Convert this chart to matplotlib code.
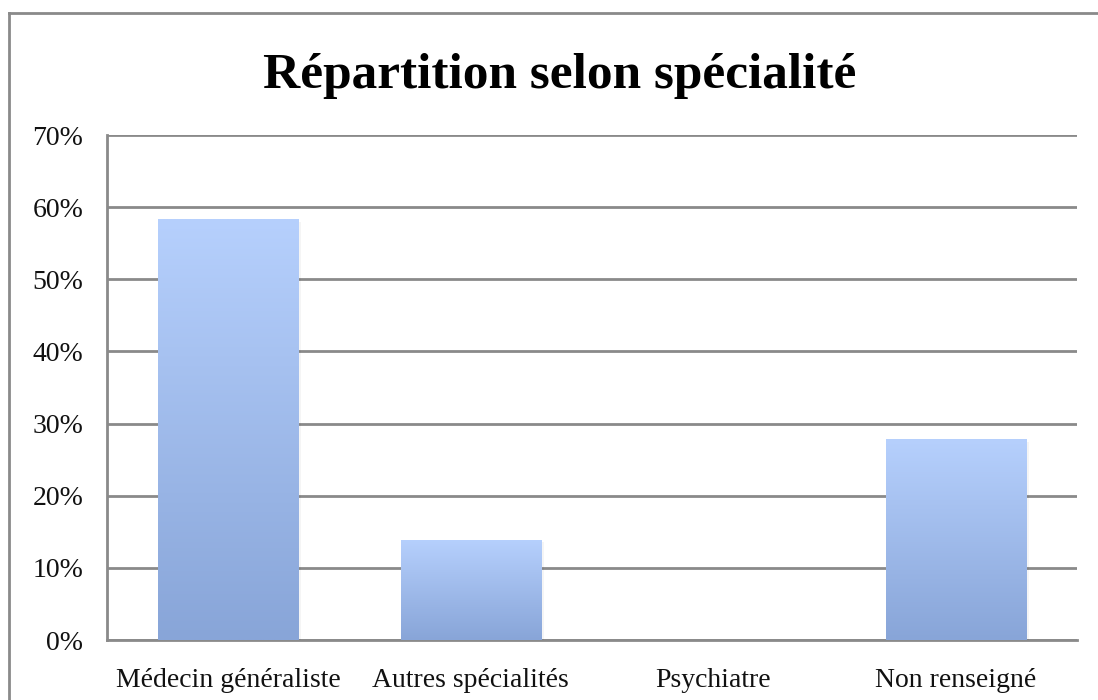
import matplotlib
matplotlib.use('Agg')
import matplotlib.pyplot as plt
import numpy as np
from matplotlib.colors import LinearSegmentedColormap
from matplotlib.lines import Line2D

categories = ['Médecin généraliste', 'Autres spécialités', 'Psychiatre', 'Non renseigné']
values = [58.3, 13.9, 0.0, 27.8]
yticks = [0, 10, 20, 30, 40, 50, 60, 70]
title = 'Répartition selon spécialité'

plt.rcParams['font.family'] = ['Liberation Serif', 'DejaVu Serif']

fig = plt.figure(figsize=(10.98, 7), dpi=100)
ax = fig.add_axes([0.0975, 0.0857, 0.8835, 0.7214])

# frame around the whole chart (top and left edges visible)
fig.add_artist(Line2D([9 / 1098, 9 / 1098], [0, 1 - 13 / 700], transform=fig.transFigure,
                      color='#8a8a8a', lw=2))
fig.add_artist(Line2D([9 / 1098, 1], [1 - 13 / 700, 1 - 13 / 700], transform=fig.transFigure,
                      color='#8a8a8a', lw=2))

x = np.arange(len(categories))
width = 0.58
cmap = LinearSegmentedColormap.from_list('grad', ['#88a5d8', '#b6d0fd'])
grad = np.linspace(0, 1, 256).reshape(-1, 1)

bars = ax.bar(x, values, width=width, color='none', edgecolor='none', zorder=3)
for b, v in zip(bars, values):
    if v <= 0:
        continue
    x0 = b.get_x()
    # faint shadow
    ax.bar(x0 + width / 2 + 0.01, v, width=width, bottom=-0.3, color='#000000', alpha=0.04,
           zorder=2.5, edgecolor='none')
    im = ax.imshow(grad, extent=[x0, x0 + width, 0, v], origin='lower', aspect='auto',
                   cmap=cmap, zorder=3)
    im.set_clip_path(b)

ax.set_xlim(-0.5, len(categories) - 0.5)
ax.set_ylim(0, 70)
ax.set_yticks(yticks)
ax.set_yticklabels([f'{t}%' for t in yticks], fontsize=20, color='#111111')
ax.set_xticks(x)
ax.set_xticklabels(categories, fontsize=20, color='#111111')
ax.tick_params(axis='y', length=0, pad=17)
ax.tick_params(axis='x', length=0, pad=20)
ax.grid(axis='y', color='#8a8a8a', lw=2, zorder=1)
ax.axhline(0, color='#8a8a8a', lw=2, zorder=1, clip_on=False)
ax.set_axisbelow(True)
for s in ['top', 'right', 'bottom']:
    ax.spines[s].set_visible(False)
ax.spines['left'].set_color('#8a8a8a')
ax.spines['left'].set_linewidth(2)

fig.text(0.51, 1 - 76 / 700, title, ha='center', va='center', fontsize=37, fontweight='bold')

fig.savefig('out.png', dpi=100)
